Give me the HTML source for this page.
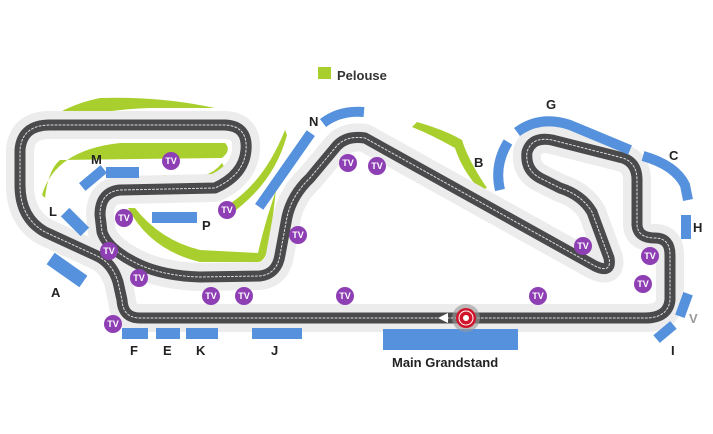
<!DOCTYPE html>
<html><head><style>
body{margin:0;background:#fff;}
svg{display:block;font-family:"Liberation Sans",sans-serif;}
</style></head><body>
<svg width="713" height="434" viewBox="0 0 713 434" xmlns="http://www.w3.org/2000/svg">
<!-- green areas -->
<g fill="#a9cf2e">
<path d="M12,160 Q40,110 100,98 Q160,96 215,108 L150,108 Q80,110 40,135 Q25,150 18,165 Z"/>
<path d="M42,195 Q55,150 120,143 L225,143 Q232,150 222,158 L60,160 Q48,170 45,198 Z"/>
<path d="M163,175 L205,175 Q215,172 222,163 L226,170 Q215,182 200,183 L163,183 Z"/>
<path d="M128,208 L135,208 Q160,240 200,250 L258,253 Q262,235 268,215 L276,190 L270,240 Q266,262 258,262 L200,262 Q150,250 128,208 Z"/>
<path d="M231,203 Q265,180 285,130 L287,135 Q275,180 236,210 Z"/>
<path d="M412,127 L417,122 Q445,130 462,140 Q468,160 487,188 L480,190 Q462,170 455,148 Q432,135 412,127 Z"/>
<rect x="318" y="67" width="13" height="12"/>
</g>
<text x="337" y="80" font-size="13" font-weight="bold" fill="#333">Pelouse</text>
<!-- track -->
<g fill="none" stroke-linejoin="round" stroke-linecap="round">
<path id="t" d="M465,318 L140,318 Q123,318 122,300 L118,282 Q112,262 95,255 L45,232 Q20,218 20,185 L20,150 Q22,125 50,125 L225,125 Q248,126 246,150 Q244,175 215,188 L120,190 Q100,192 100,215 L102,232 Q108,250 140,265 Q165,276 200,277 L260,276 Q277,274 280,255 L287,217 Q292,195 310,178 L335,148 Q345,135 365,138 L595,266 Q612,274 609,258 L592,212 Q582,195 560,188 L540,178 Q525,170 527,152 Q532,136 552,140 L623,158 Q637,163 637,180 L637,225 Q638,238 655,238 Q670,238 670,255 L670,300 Q668,318 645,318 Z" stroke="#ececec" stroke-width="28"/>
<path d="M465,318 L140,318 Q123,318 122,300 L118,282 Q112,262 95,255 L45,232 Q20,218 20,185 L20,150 Q22,125 50,125 L225,125 Q248,126 246,150 Q244,175 215,188 L120,190 Q100,192 100,215 L102,232 Q108,250 140,265 Q165,276 200,277 L260,276 Q277,274 280,255 L287,217 Q292,195 310,178 L335,148 Q345,135 365,138 L595,266 Q612,274 609,258 L592,212 Q582,195 560,188 L540,178 Q525,170 527,152 Q532,136 552,140 L623,158 Q637,163 637,180 L637,225 Q638,238 655,238 Q670,238 670,255 L670,300 Q668,318 645,318 Z" stroke="#4a4a4c" stroke-width="11"/>
<path d="M465,318 L140,318 Q123,318 122,300 L118,282 Q112,262 95,255 L45,232 Q20,218 20,185 L20,150 Q22,125 50,125 L225,125 Q248,126 246,150 Q244,175 215,188 L120,190 Q100,192 100,215 L102,232 Q108,250 140,265 Q165,276 200,277 L260,276 Q277,274 280,255 L287,217 Q292,195 310,178 L335,148 Q345,135 365,138 L595,266 Q612,274 609,258 L592,212 Q582,195 560,188 L540,178 Q525,170 527,152 Q532,136 552,140 L623,158 Q637,163 637,180 L637,225 Q638,238 655,238 Q670,238 670,255 L670,300 Q668,318 645,318 Z" stroke="#ddd" stroke-width="1" stroke-dasharray="2,2"/>
</g>
<!-- grandstands -->
<g fill="#5591dc">
<rect x="383" y="329" width="135" height="21"/>
<rect x="122" y="328" width="26" height="11"/>
<rect x="156" y="328" width="24" height="11"/>
<rect x="186" y="328" width="32" height="11"/>
<rect x="252" y="328" width="50" height="11"/>
<rect x="681" y="215" width="10" height="24"/>
<rect x="106" y="167" width="33" height="11"/>
<rect x="152" y="212" width="45" height="11"/>
<rect x="-14" y="-5" width="28" height="10" transform="translate(93,178) rotate(-40)"/>
<rect x="-20" y="-7" width="40" height="14" transform="translate(67,270) rotate(35)"/>
<rect x="-14" y="-6" width="28" height="12" transform="translate(75,222) rotate(45)"/>
<rect x="-45" y="-5" width="90" height="10" transform="translate(285,170) rotate(-55)"/>
<rect x="-12" y="-5" width="24" height="10" transform="translate(684,305) rotate(-70)"/>
<rect x="-11" y="-5" width="22" height="10" transform="translate(665,332) rotate(-40)"/>
</g>
<g fill="none" stroke="#5591dc" stroke-width="10">
<path d="M323,123 Q340,110 364,112"/>
<path d="M508,142 Q494,165 500,190"/>
<path d="M517,132 Q540,115 570,125 L630,150"/>
<path d="M643,156 Q675,165 685,185 L688,200"/>
</g>
<!-- labels -->
<g font-size="13" font-weight="bold" fill="#222">
<text x="309" y="126">N</text><text x="91" y="164">M</text><text x="49" y="216">L</text>
<text x="51" y="297">A</text><text x="202" y="230">P</text><text x="474" y="167">B</text>
<text x="546" y="109">G</text><text x="669" y="160">C</text><text x="693" y="232">H</text>
<text x="671" y="355">I</text><text x="130" y="355">F</text><text x="163" y="355">E</text>
<text x="196" y="355">K</text><text x="271" y="355">J</text>
<text x="392" y="367">Main Grandstand</text>
</g>
<text x="689" y="323" font-size="13" font-weight="bold" fill="#999">V</text>
<!-- TV -->
<g fill="#8e3fb4">
<circle cx="171" cy="161" r="9"/><circle cx="124" cy="218" r="9"/><circle cx="227" cy="210" r="9"/>
<circle cx="109" cy="251" r="9"/><circle cx="139" cy="278" r="9"/><circle cx="211" cy="296" r="9"/>
<circle cx="244" cy="296" r="9"/><circle cx="298" cy="235" r="9"/><circle cx="348" cy="163" r="9"/>
<circle cx="377" cy="166" r="9"/><circle cx="345" cy="296" r="9"/><circle cx="583" cy="246" r="9"/>
<circle cx="650" cy="256" r="9"/><circle cx="643" cy="284" r="9"/><circle cx="538" cy="296" r="9"/>
<circle cx="113" cy="324" r="9"/>
</g>
<g font-size="9" font-weight="bold" fill="#fff" text-anchor="middle">
<text x="171" y="164">TV</text><text x="124" y="221">TV</text><text x="227" y="213">TV</text>
<text x="109" y="254">TV</text><text x="139" y="281">TV</text><text x="211" y="299">TV</text>
<text x="244" y="299">TV</text><text x="298" y="238">TV</text><text x="348" y="166">TV</text>
<text x="377" y="169">TV</text><text x="345" y="299">TV</text><text x="583" y="249">TV</text>
<text x="650" y="259">TV</text><text x="643" y="287">TV</text><text x="538" y="299">TV</text>
<text x="113" y="327">TV</text>
</g>
<!-- start -->
<polygon points="438,318 448,313 448,323" fill="#fff"/>
<circle cx="466" cy="318" r="14" fill="#999" opacity="0.6"/>
<circle cx="466" cy="318" r="10" fill="#d0152b"/>
<circle cx="466" cy="318" r="7" fill="none" stroke="#fff" stroke-width="1"/>
<circle cx="466" cy="318" r="3" fill="#fff"/>
</svg>
</body></html>
